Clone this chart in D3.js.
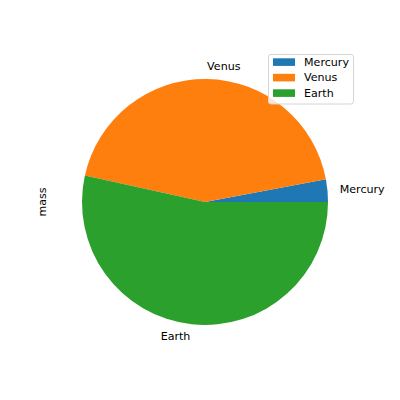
<!DOCTYPE html>
<html>
<head>
<meta charset="utf-8">
<script src="https://cdn.jsdelivr.net/npm/d3@7"></script>
<style>
  body { margin: 0; background: #fff; }
  text { font-family: "DejaVu Sans", sans-serif; font-size: 11.1px; fill: #000; }
</style>
</head>
<body>
<div id="chart"></div>
<script>
// Planet masses (10^24 kg)
const planets = ["Mercury", "Venus", "Earth"];
const mass = [0.330, 4.87, 5.97];
const colors = ["#1f77b4", "#ff7f0e", "#2ca02c"];

const width = 400;
const height = 400;
const cx = 205, cy = 202, radius = 123;

const svg = d3.select("#chart")
    .append("svg")
    .attr("width", width)
    .attr("height", height);

const data = planets.map((p, i) => ({ name: p, value: mass[i], color: colors[i] }));

// matplotlib starts at 3 o'clock and goes counterclockwise
const pie = d3.pie()
    .sort(null)
    .value(d => d.value)
    .startAngle(Math.PI / 2)
    .endAngle(Math.PI / 2 - 2 * Math.PI);

const arcs = pie(data);
const arc = d3.arc().innerRadius(0).outerRadius(radius);

const g = svg.append("g").attr("transform", `translate(${cx},${cy})`);

g.selectAll("path")
    .data(arcs)
    .enter().append("path")
    .attr("d", arc)
    .attr("fill", d => d.data.color);

// Labels at 1.1 * radius
g.selectAll(".lbl")
    .data(arcs)
    .enter().append("text")
    .attr("class", "lbl")
    .each(function(d) {
        const mid = (d.startAngle + d.endAngle) / 2;
        const x = Math.sin(mid) * radius * 1.1;
        const y = -Math.cos(mid) * radius * 1.1;
        d3.select(this)
            .attr("x", x)
            .attr("y", y)
            .attr("dominant-baseline", "central")
            .attr("text-anchor", x > 0 ? "start" : "end")
            .text(d.data.name);
    });

// y label
svg.append("text")
    .attr("transform", `translate(42,${cy}) rotate(-90)`)
    .attr("text-anchor", "middle")
    .attr("dominant-baseline", "central")
    .text("mass");

// Legend
const legend = svg.append("g").attr("transform", "translate(268.5,54.5)");
legend.append("rect")
    .attr("width", 85)
    .attr("height", 49.5)
    .attr("rx", 2.5)
    .attr("fill", "rgba(255,255,255,0.8)")
    .attr("stroke", "#d6d6d6")
    .attr("stroke-width", 1);

const items = legend.selectAll(".item")
    .data(data)
    .enter().append("g")
    .attr("transform", (d, i) => `translate(4.5,${3.8 + i * 15.5})`);

items.append("rect")
    .attr("width", 22)
    .attr("height", 7.6)
    .attr("fill", d => d.color);

items.append("text")
    .attr("x", 31)
    .attr("y", 4)
    .attr("dominant-baseline", "central")
    .text(d => d.name);
</script>
</body>
</html>
